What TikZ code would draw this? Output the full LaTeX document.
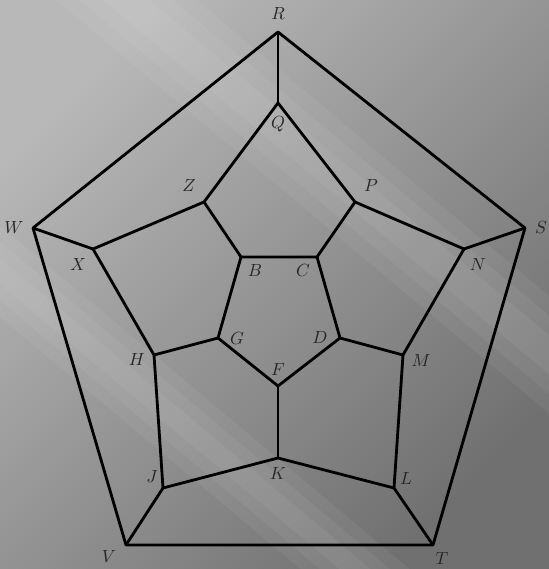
\documentclass[tikz,border=0pt]{standalone}
\usepackage{tikz}

\begin{document}
\begin{tikzpicture}[line width=1.6pt,line join=round,
  lbl/.style={text=black!85,inner sep=0pt,font=\normalsize},
  streak/.style={fill=white,opacity=0.05}]
% background
\shade[top color=black!28,middle color=black!40,bottom color=black!56,shading angle=45] (0,0) rectangle (10.98,11.38);
\begin{scope}
\clip (0,0) rectangle (10.98,11.38);
\begin{scope}[rotate around={-40:(5.6,8.8)}]
\foreach \w in {0.3,0.6,0.9}
  \fill[streak] (-6,8.8-\w) rectangle (16,8.8+\w);
\end{scope}
\begin{scope}[rotate around={-40:(4,2.6)}]
\foreach \w in {0.2,0.45,0.7}
  \fill[streak] (-6,2.6-\w) rectangle (16,2.6+\w);
\end{scope}
\end{scope}
\useasboundingbox (0,0) rectangle (10.98,11.38);
% outer ring
\coordinate (R) at (5.56,10.74);
\coordinate (S) at (10.50,6.82);
\coordinate (T) at (8.66,0.48);
\coordinate (V) at (2.52,0.48);
\coordinate (W) at (0.66,6.82);
% middle ring
\coordinate (Q) at (5.56,9.32);
\coordinate (P) at (7.10,7.34);
\coordinate (N) at (9.28,6.40);
\coordinate (M) at (8.06,4.28);
\coordinate (L) at (7.88,1.62);
\coordinate (K) at (5.56,2.22);
\coordinate (J) at (3.26,1.62);
\coordinate (H) at (3.08,4.28);
\coordinate (X) at (1.86,6.40);
\coordinate (Z) at (4.08,7.34);
% inner ring
\coordinate (B) at (4.82,6.24);
\coordinate (C) at (6.34,6.24);
\coordinate (D) at (6.80,4.62);
\coordinate (F) at (5.56,3.66);
\coordinate (G) at (4.36,4.62);
% edges
\draw (R) -- (S) -- (T) -- (V) -- (W) -- cycle;
\draw (Q) -- (P) -- (N) -- (M) -- (L) -- (K) -- (J) -- (H) -- (X) -- (Z) -- cycle;
\draw (B) -- (C) -- (D) -- (F) -- (G) -- cycle;
\draw (R) -- (Q);
\draw (S) -- (N);
\draw (T) -- (L);
\draw (V) -- (J);
\draw (W) -- (X);
\draw (Z) -- (B);
\draw (P) -- (C);
\draw (M) -- (D);
\draw (K) -- (F);
\draw (H) -- (G);
% labels
\node[lbl] (lR) at (5.56,11.10) {$R$};
\node[lbl] (lQ) at (5.56,8.90) {$Q$};
\node[lbl] (lZ) at (3.78,7.66) {$Z$};
\node[lbl] (lP) at (7.42,7.66) {$P$};
\node[lbl] (lW) at (0.28,6.82) {$W$};
\node[lbl] (lS) at (10.82,6.82) {$S$};
\node[lbl] (lX) at (1.56,6.08) {$X$};
\node[lbl] (lN) at (9.56,6.08) {$N$};
\node[lbl] (lB) at (5.10,5.96) {$B$};
\node[lbl] (lC) at (6.06,5.96) {$C$};
\node[lbl] (lG) at (4.74,4.60) {$G$};
\node[lbl] (lD) at (6.40,4.62) {$D$};
\node[lbl] (lF) at (5.56,4.00) {$F$};
\node[lbl] (lH) at (2.74,4.18) {$H$};
\node[lbl] (lM) at (8.42,4.16) {$M$};
\node[lbl] (lJ) at (3.04,1.86) {$J$};
\node[lbl] (lK) at (5.56,1.92) {$K$};
\node[lbl] (lL) at (8.12,1.82) {$L$};
\node[lbl] (lV) at (2.18,0.26) {$V$};
\node[lbl] (lT) at (8.84,0.22) {$T$};
\end{tikzpicture}
\end{document}
